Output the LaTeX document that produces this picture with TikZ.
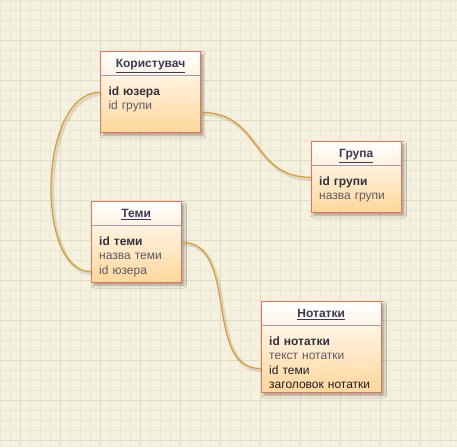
\documentclass[tikz,border=0pt]{standalone}
\usepackage{fontspec}
\setmainfont{Liberation Sans}
\usetikzlibrary{calc,shadows.blur,positioning,shapes.multipart}

\definecolor{paper}{HTML}{F4F1DF}
\definecolor{gridminor}{HTML}{EBE8D4}
\definecolor{gridmajor}{HTML}{DFDCC7}
\definecolor{entityborder}{HTML}{EA735B}
\definecolor{entitybottom}{HTML}{FFD79A}
\definecolor{splitgray}{HTML}{9C9CAC}
\definecolor{linkorange}{HTML}{E09A2C}
\definecolor{headtext}{HTML}{3A3A58}
\definecolor{keytext}{HTML}{303040}
\definecolor{fieldtext}{HTML}{5A5A68}
\definecolor{darktext}{HTML}{1E1E26}

\newcommand{\entityhead}[1]{\makebox[\hsize]{\rule[-5.6pt]{0pt}{17.25pt}\textcolor{headtext}{\textbf{\underline{#1}}}}}
\newcommand{\keyfield}[1]{\rule{0pt}{14.25pt}\color{fieldtext}{\color{keytext}\textbf{#1}}}
\newcommand{\darkfield}[1]{{\color{darktext}#1}}
\newcommand{\padbottom}[1]{\rule[-#1]{0pt}{#1}}

\begin{document}
\begin{tikzpicture}[x=0.75pt, y=-0.75pt,
			entity/.style={rectangle split, rectangle split parts=2, rectangle split draw splits=false,
					draw=entityborder, line width=0.8pt, shade, top color=white, bottom color=entitybottom,
					inner xsep=6pt, inner ysep=0pt, align=left, anchor=north west, text=fieldtext,
					font=\fontsize{9pt}{10.9pt}\selectfont,
					blur shadow={shadow xshift=2pt, shadow yshift=-2pt, shadow blur radius=2pt, shadow opacity=35}},
			split/.style={draw=splitgray, line width=0.8pt},
			link/.style={draw=linkorange, line width=0.9pt,
					preaction={draw=black, opacity=0.1, line width=2.5pt, transform canvas={shift={(1.2pt,-1.5pt)}}}},]
		\useasboundingbox (0,0) rectangle (457,447);
		\fill[paper] (0,0) rectangle (457,447);
		\foreach \x in {0,10,...,450} \draw[gridminor, line width=0.75pt] (\x,0) -- (\x,447);
		\foreach \y in {0,10,...,440} \draw[gridminor, line width=0.75pt] (0,\y) -- (457,\y);
		\foreach \x in {20,60,...,440} \draw[gridmajor, line width=0.75pt] (\x,0) -- (\x,447);
		\foreach \y in {40,80,...,440} \draw[gridmajor, line width=0.75pt] (0,\y) -- (457,\y);

		\node (user) [entity, text width=63pt] at (100,51)
		{
			\entityhead{Користувач}
			\nodepart{second} \keyfield{id юзера} \\ id групи\padbottom{16.85pt}
		};

		\node (group) [entity, text width=55.5pt] at (310.7,141)
		{
			\entityhead{Група}
			\nodepart{second} \keyfield{id групи} \\ назва групи\padbottom{9.35pt}
		};

		\node (topic) [entity, text width=55.5pt] at (90.7,201)
		{
			\entityhead{Теми}
			\nodepart{second} \keyfield{id теми} \\ назва теми \\ id юзера\padbottom{5.95pt}
		};

		\node (note) [entity, text width=78pt] at (260.7,301)
		{
			\entityhead{Нотатки}
			\nodepart{second} \keyfield{id нотатки} \\ текст нотатки \\ \darkfield{id теми} \\ \darkfield{заголовок нотатки}\padbottom{2.55pt}
		};

		\foreach \n in {user,group,topic,note}
		\draw [split] (\n.text split west) -- (\n.text split east);

		\coordinate (user-iduser) at ($(user.text split west)+(0,16.7)$);
		\coordinate (user-idgroup) at ($(user.text split east)+(0,36.7)$);
		\coordinate (group-idgroup) at ($(group.text split west)+(0,11.7)$);
		\coordinate (topic-iduser) at ($(topic.text split west)+(0,46)$);
		\coordinate (topic-idtopic) at ($(topic.text split east)+(0,16.7)$);
		\coordinate (note-idtopic) at ($(note.text split west)+(0,43)$);

		\draw [link] (user-idgroup) .. controls +(60,0) and +(-60,0) .. (group-idgroup);
		\draw [link] (user-iduser) .. controls +(-62,0) and +(-56,0) .. (topic-iduser);
		\draw [link] (topic-idtopic) .. controls +(58,0) and +(-58,0) .. (note-idtopic);
	\end{tikzpicture}
\end{document}
